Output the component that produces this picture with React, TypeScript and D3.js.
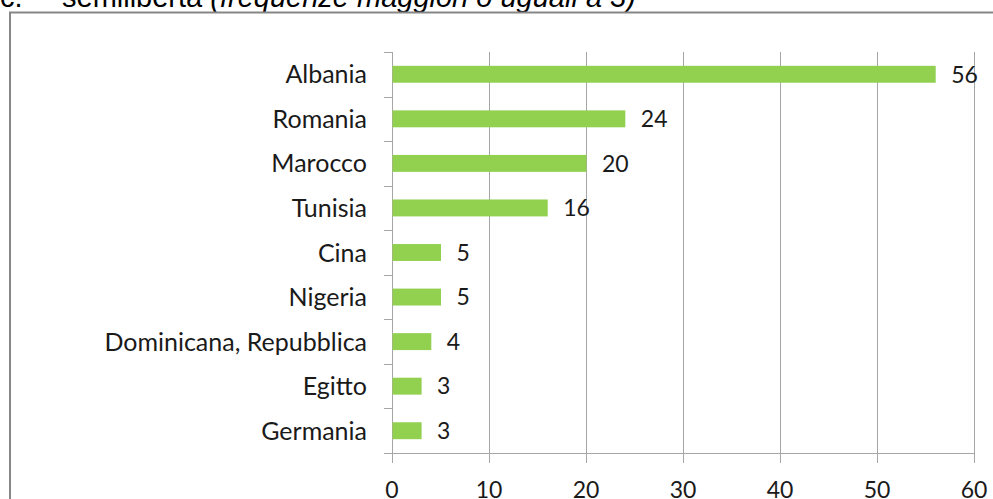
// Horizontal bar chart: frequenze (semilibertà) per paese
import React, { useRef, useEffect } from 'react';
import * as d3 from 'd3';

const countries = [
  'Albania', 'Romania', 'Marocco', 'Tunisia', 'Cina',
  'Nigeria', 'Dominicana, Repubblica', 'Egitto', 'Germania',
];
const counts = [56, 24, 20, 16, 5, 5, 4, 3, 3];
const xTicks = [0, 10, 20, 30, 40, 50, 60];

const FONT = 'Lato, "Open Sans", sans-serif';

export default function App() {
  const svgRef = useRef<SVGSVGElement>(null);

  useEffect(() => {
    if (!svgRef.current) return;
    const svg = d3.select(svgRef.current);
    svg.selectAll('*').remove();

    const margin = { top: 52, left: 392, right: 19, bottom: 46 };
    const W = 993, H = 499;
    const width = W - margin.left - margin.right;
    const height = H - margin.top - margin.bottom;

    // heading, cut off at the top of the page
    const title = svg.append('text')
      .attr('x', 0).attr('y', 7)
      .attr('fill', '#000')
      .style('font-family', 'Arial, "Liberation Sans", sans-serif')
      .style('font-size', '29px');
    title.append('tspan').text('c.');
    title.append('tspan').attr('x', 62).text('semilibertà ');
    title.append('tspan').style('font-style', 'italic').text('(frequenze maggiori o uguali a 3)');

    // chart frame
    svg.append('rect')
      .attr('x', 10).attr('y', 12.5)
      .attr('width', 1000).attr('height', 600)
      .attr('fill', '#fff')
      .attr('stroke', '#868686')
      .attr('stroke-width', 2);

    const g = svg.append('g').attr('transform', `translate(${margin.left},${margin.top})`);

    const x = d3.scaleLinear().domain([0, 60]).range([0, width]);
    const y = d3.scaleBand().domain(countries).range([0, height]).paddingInner(0.62).paddingOuter(0.31);

    // vertical gridlines + bottom ticks
    g.selectAll('.grid')
      .data(xTicks)
      .join('line')
      .attr('x1', d => Math.round(x(d)) + 0.5)
      .attr('x2', d => Math.round(x(d)) + 0.5)
      .attr('y1', 0)
      .attr('y2', height + 10)
      .attr('stroke', '#a6a6a6')
      .attr('stroke-width', 1);

    // category ticks (band boundaries)
    const bounds = d3.range(countries.length + 1).map(i => (height / countries.length) * i);
    g.selectAll('.ctick')
      .data(bounds)
      .join('line')
      .attr('x1', -8).attr('x2', 0)
      .attr('y1', d => Math.round(d) + 0.5)
      .attr('y2', d => Math.round(d) + 0.5)
      .attr('stroke', '#a6a6a6');

    // bottom axis line
    g.append('line')
      .attr('x1', -8).attr('x2', width + 0.5)
      .attr('y1', height + 0.5).attr('y2', height + 0.5)
      .attr('stroke', '#a6a6a6');

    // bars
    g.selectAll('.bar')
      .data(countries)
      .join('rect')
      .attr('x', 0.5)
      .attr('y', d => y(d)!)
      .attr('width', (_, i) => x(counts[i]))
      .attr('height', y.bandwidth())
      .attr('fill', '#92d050');

    // value labels
    g.selectAll('.val')
      .data(countries)
      .join('text')
      .attr('x', (_, i) => x(counts[i]) + 16)
      .attr('y', d => y(d)! + y.bandwidth() / 2)
      .attr('dy', '0.36em')
      .attr('fill', '#1a1a1a')
      .style('font-family', FONT)
      .style('font-size', '23px')
      .text((_, i) => counts[i]);

    // category labels
    g.selectAll('.cat')
      .data(countries)
      .join('text')
      .attr('x', -25)
      .attr('y', d => y(d)! + y.bandwidth() / 2)
      .attr('dy', '0.36em')
      .attr('text-anchor', 'end')
      .attr('fill', '#1a1a1a')
      .style('font-family', FONT)
      .style('font-size', '25px')
      .text(d => d);

    // x tick labels
    g.selectAll('.xl')
      .data(xTicks)
      .join('text')
      .attr('x', d => x(d))
      .attr('y', height + 45)
      .attr('text-anchor', 'middle')
      .attr('fill', '#1a1a1a')
      .style('font-family', FONT)
      .style('font-size', '23px')
      .text(d => d);
  }, []);

  return (
    <svg
      ref={svgRef}
      width={993}
      height={499}
      style={{ position: 'absolute', left: 0, top: 0, background: '#fff' }}
    />
  );
}
